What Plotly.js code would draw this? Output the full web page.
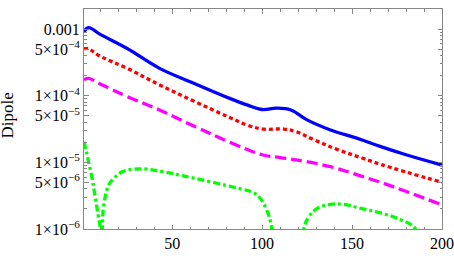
<!DOCTYPE html>
<html>
<head>
<meta charset="utf-8">
<script src="https://cdn.plot.ly/plotly-3.0.1.min.js"></script>
<style>html,body{margin:0;padding:0;background:#fff;}#chart{width:454px;height:278px;}</style>
</head>
<body>
<div id="chart"></div>
<script>
// ---- data ----
var blueX = [1, 3.5, 10, 25, 43, 62, 82, 92, 100, 108, 116, 125, 138, 153, 166, 180, 200];
var blueY = [9.1e-4, 1.05e-3, 8.3e-4, 5.1e-4, 2.57e-4, 1.54e-4, 9.1e-5, 7.2e-5, 6.2e-5, 6.5e-5, 6.1e-5, 4.33e-5, 3.06e-5, 2.29e-5, 1.72e-5, 1.3e-5, 9.1e-6];

var redX = [1, 3, 10, 25, 43, 62, 82, 92, 101, 112, 119, 129, 142, 156, 166, 200];
var redY = [5.0e-4, 5.1e-4, 3.9e-4, 2.57e-4, 1.45e-4, 8.3e-5, 4.7e-5, 3.6e-5, 3.15e-5, 3.16e-5, 2.88e-5, 2.17e-5, 1.55e-5, 1.15e-5, 9.3e-6, 5.0e-6];

var magX = [1, 3.5, 10, 25, 43, 62, 82, 100, 110, 119, 138, 156, 166, 182, 200];
var magY = [1.72e-4, 1.82e-4, 1.5e-4, 9.7e-5, 6.1e-5, 3.5e-5, 2.0e-5, 1.3e-5, 1.18e-5, 1.09e-5, 8.6e-6, 6.1e-6, 5.0e-6, 3.5e-6, 2.3e-6];

var greenX = [1, 2.5, 5.3, 7.2, 9.0, 10.0, 10.6, 11.2, 11.9, 14.7, 17.6, 22.2, 28.7, 36, 45.4, 54.6, 71.3, 88, 95.2, 98.9, 102.6, 105.4, 107, 114, 121.5, 123.2, 126, 130.7, 138, 145.5, 154.8, 165.9, 177, 185.3, 188, 191, 200];
var greenY = [2.04e-5, 1.37e-5, 6.1e-6, 3.06e-6, 1.53e-6, 1.0e-6, 1e-8, 1.0e-6, 2.17e-6, 4.57e-6, 5.75e-6, 7.2e-6, 7.9e-6, 7.9e-6, 7.2e-6, 6.4e-6, 5.1e-6, 4.0e-6, 3.5e-6, 2.9e-6, 1.9e-6, 1.0e-6, 1e-8, 1e-8, 1e-8, 1.0e-6, 1.53e-6, 2.04e-6, 2.34e-6, 2.34e-6, 2.04e-6, 1.74e-6, 1.38e-6, 1.0e-6, 5e-7, 1e-8, 1e-8];

var xTickVals = [50, 100, 150, 200];
var yTickVals = [1e-6, 5e-6, 1e-5, 5e-5, 1e-4, 5e-4, 1e-3];
var yTickText = ['1\u00d710<sup>\u22126</sup>', '5\u00d710<sup>\u22126</sup>', '1\u00d710<sup>\u22125</sup>', '5\u00d710<sup>\u22125</sup>', '1\u00d710<sup>\u22124</sup>', '5\u00d710<sup>\u22124</sup>', '0.001'];
var yTitle = 'Dipole';

// minor log ticks
var yMinor = [];
for (var e = -6; e <= -3; e++) {
  for (var m = 2; m <= 9; m++) { if (m !== 5) yMinor.push(m * Math.pow(10, e)); }
}

var font = 'Liberation Serif';

function tr(x, y, color, dash) {
  return {
    x: x, y: y, type: 'scatter', mode: 'lines',
    line: {color: color, width: 3.3, dash: dash, shape: 'spline', smoothing: 1.1},
    hoverinfo: 'skip', showlegend: false
  };
}

var data = [
  tr(greenX, greenY, '#00ff00', '7px,3px,3px,3px'),
  tr(magX, magY, '#ff00ff', '11px,5px'),
  tr(redX, redY, '#ff0000', '4px,3px'),
  tr(blueX, blueY, '#0000ff', 'solid')
];

var layout = {
  width: 454, height: 278,
  margin: {l: 84, r: 12, t: 9, b: 49, pad: 0},
  paper_bgcolor: '#fff', plot_bgcolor: '#fff',
  font: {family: font, size: 16, color: '#000'},
  showlegend: false,
  xaxis: {
    range: [1, 200], tickvals: xTickVals, ticktext: xTickVals.map(String),
    ticks: 'inside', ticklen: 4.5, tickwidth: 1, tickcolor: '#888',
    showline: true, linecolor: '#888', linewidth: 1, mirror: 'allticks',
    showgrid: false, zeroline: false, ticklabeloverflow: 'allow',
    tickfont: {family: font, size: 16, color: '#000'},
    minor: {dtick: 10, tick0: 0, ticks: 'inside', ticklen: 2.5, tickwidth: 1, tickcolor: '#888', showgrid: false}
  },
  yaxis: {
    type: 'log', range: [-6, -2.7],
    tickvals: yTickVals, ticktext: yTickText,
    ticks: 'inside', ticklen: 4.5, tickwidth: 1, tickcolor: '#888',
    showline: true, linecolor: '#888', linewidth: 1, mirror: 'allticks',
    showgrid: false, zeroline: false, ticklabeloverflow: 'allow',
    tickfont: {family: font, size: 16, color: '#000'},
    minor: {tickvals: yMinor, ticks: 'inside', ticklen: 2.5, tickwidth: 1, tickcolor: '#888', showgrid: false}
  },
  annotations: [{
    text: yTitle, textangle: -90, showarrow: false, borderpad: 0,
    xref: 'paper', yref: 'paper', x: 0, y: 0.5, xanchor: 'left', yanchor: 'middle',
    xshift: -88, yshift: 3,
    font: {family: font, size: 17, color: '#000'}
  }]
};

Plotly.newPlot('chart', data, layout, {displayModeBar: false});
</script>
</body>
</html>
